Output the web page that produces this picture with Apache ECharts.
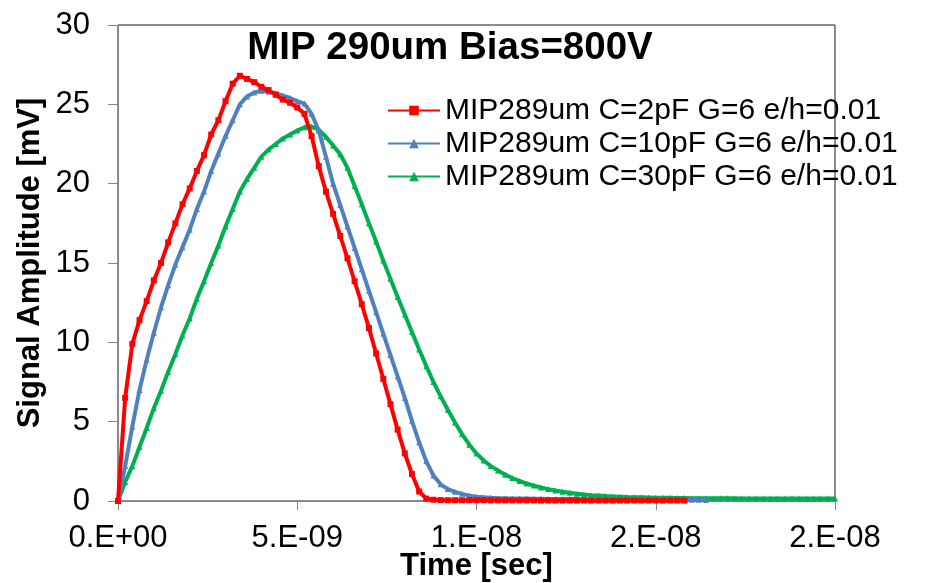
<!DOCTYPE html>
<html>
<head>
<meta charset="utf-8">
<script src="https://cdn.jsdelivr.net/npm/echarts@6/dist/echarts.min.js"></script>
<style>
  html, body { margin: 0; padding: 0; background: #fff; }
  #chart { width: 928px; height: 583px; }
</style>
</head>
<body>
<div id="chart"></div>
<script>
// sampling step of the simulated pulses, in ns (x axis is drawn in ns, labelled in sec)
const timeStepNs = 0.2

const seriesNames = [
  'MIP289um C=2pF G=6 e/h=0.01',
  'MIP289um C=10pF G=6 e/h=0.01',
  'MIP289um C=30pF G=6 e/h=0.01'
]

// signal amplitude [mV], one value every 0.2 ns from t = 0
const c2pF = [
  0, 6.5, 9.9, 11.4, 12.6, 13.9, 15.0, 16.3, 17.5, 18.7,
  19.7, 20.8, 21.8, 23.1, 24.0, 25.2, 26.3, 26.8, 26.6, 26.4,
  26.1, 25.9, 25.6, 25.3, 25.1, 24.8, 24.4, 23.0, 21.1, 19.5,
  18.1, 16.7, 15.3, 13.85, 12.4, 10.9, 9.3, 7.7, 6.1, 4.5,
  3.0, 1.7, 0.6, 0.15, 0.08, 0.06, 0.05, 0.05, 0.05, 0.05,
  0.05, 0.05, 0.04, 0.04, 0.04, 0.04, 0.04, 0.04, 0.04, 0.03,
  0.03, 0.03, 0.03, 0.03, 0.03, 0.03, 0.03, 0.03, 0.03, 0.03,
  0.03, 0.03, 0.03, 0.03, 0.03, 0.03, 0.03, 0.03, 0.03, 0.03
]
const c10pF = [
  0, 2.2, 4.7, 7.0, 8.9, 10.6, 12.2, 13.6, 14.9, 16.0,
  17.1, 18.4, 19.5, 20.8, 21.9, 23.0, 24.0, 25.0, 25.5, 25.75,
  25.85, 25.8, 25.7, 25.55, 25.4, 25.2, 25.05, 24.4, 23.35, 21.7,
  20.0, 18.65, 17.3, 15.95, 14.6, 13.25, 11.9, 10.55, 9.2, 7.85,
  6.5, 5.05, 3.7, 2.5, 1.6, 1.05, 0.75, 0.58, 0.45, 0.34,
  0.27, 0.23, 0.2, 0.18, 0.17, 0.16, 0.15, 0.15, 0.14, 0.14,
  0.13, 0.13, 0.12, 0.12, 0.12, 0.11, 0.11, 0.11, 0.1, 0.1,
  0.1, 0.1, 0.1, 0.09, 0.09, 0.09, 0.09, 0.08, 0.08, 0.08,
  0.08, 0.08, 0.07
]
const c30pF = [
  0, 1.2, 2.2, 3.4, 4.6, 5.85, 6.95, 8.15, 9.25, 10.45,
  11.5, 12.75, 13.85, 15.0, 16.1, 17.3, 18.4, 19.5, 20.3, 21.0,
  21.7, 22.15, 22.5, 22.85, 23.1, 23.35, 23.55, 23.6, 23.4, 22.95,
  22.4, 21.85, 21.0, 19.85, 18.7, 17.5, 16.35, 15.15, 14.0, 12.85,
  11.75, 10.65, 9.55, 8.5, 7.5, 6.6, 5.75, 4.95, 4.2, 3.55,
  3.0, 2.55, 2.2, 1.92, 1.66, 1.45, 1.26, 1.1, 0.97, 0.85,
  0.75, 0.66, 0.58, 0.52, 0.46, 0.41, 0.37, 0.34, 0.31, 0.29,
  0.27, 0.25, 0.24, 0.23, 0.22, 0.21, 0.2, 0.2, 0.19, 0.19,
  0.18, 0.18, 0.18, 0.17, 0.17, 0.17, 0.17, 0.16, 0.16, 0.16,
  0.16, 0.16, 0.16, 0.15, 0.15, 0.15, 0.15, 0.15, 0.15, 0.15, 0.15
]

// Excel style tick labels (0, 5, 10, 15, 20 ns)
const xTickLabels = ['0.E+00', '5.E-09', '1.E-08', '2.E-08', '2.E-08']
const yTickLabels = ['0', '5', '10', '15', '20', '25', '30']

const colors = ['#FF0000', '#4F81BD', '#00B050']
const symbols = ['rect', 'triangle', 'triangle']
const font = '"Liberation Sans", Arial, sans-serif'

const toPoints = (values) => values.map((v, i) => [+(i * timeStepNs).toFixed(1), v])

const chart = echarts.init(document.getElementById('chart'))

const series = [c2pF, c10pF, c30pF].map((values, i) => ({
  name: seriesNames[i],
  type: 'line',
  data: toPoints(values),
  symbol: symbols[i],
  symbolSize: 6,
  showAllSymbol: true,
  lineStyle: { width: 4, color: colors[i] },
  itemStyle: { color: colors[i] },
  z: 10 - i
}))

chart.setOption({
  animation: false,
  backgroundColor: '#fff',
  title: {
    text: 'MIP 290um Bias=800V',
    left: 445,
    top: 24,
    textAlign: 'center',
    textStyle: { fontFamily: font, fontSize: 38.5, fontWeight: 'bold', color: '#000' }
  },
  legend: {
    orient: 'vertical',
    left: 387,
    top: 94,
    padding: 0,
    itemWidth: 52,
    itemHeight: 12,
    itemGap: 0,
    textStyle: { fontFamily: font, fontSize: 30, color: '#000', lineHeight: 33 },
    data: seriesNames
  },
  grid: {
    left: 118,
    right: 93,
    top: 25,
    bottom: 82,
    outerBoundsMode: 'none',
    show: true,
    borderColor: '#1a1a1a',
    borderWidth: 1
  },
  xAxis: {
    type: 'value',
    min: 0,
    max: 20,
    interval: 5,
    name: 'Time [sec]',
    nameLocation: 'middle',
    nameGap: 50,
    nameMoveOverlap: false,
    nameTextStyle: { fontFamily: font, fontSize: 31, fontWeight: 'bold', color: '#000' },
    axisLine: { show: true, onZero: false, lineStyle: { color: '#868686', width: 1 } },
    axisTick: { show: true, length: 9, lineStyle: { color: '#868686' } },
    axisLabel: {
      margin: 22,
      fontFamily: font,
      fontSize: 31,
      color: '#000',
      formatter: (v) => xTickLabels[Math.round(v / 5)]
    },
    splitLine: { show: false }
  },
  yAxis: {
    type: 'value',
    min: 0,
    max: 30,
    interval: 5,
    name: 'Signal Amplitude [mV]',
    nameLocation: 'middle',
    nameGap: 72,
    nameMoveOverlap: false,
    nameTextStyle: { fontFamily: font, fontSize: 31, fontWeight: 'bold', color: '#000' },
    axisLine: { show: true, lineStyle: { color: '#868686', width: 1 } },
    axisTick: { show: true, length: 10, lineStyle: { color: '#868686' } },
    axisLabel: {
      margin: 28,
      fontFamily: font,
      fontSize: 31,
      color: '#000',
      formatter: (v) => yTickLabels[Math.round(v / 5)]
    },
    splitLine: { show: false }
  },
  series
})
</script>
</body>
</html>
